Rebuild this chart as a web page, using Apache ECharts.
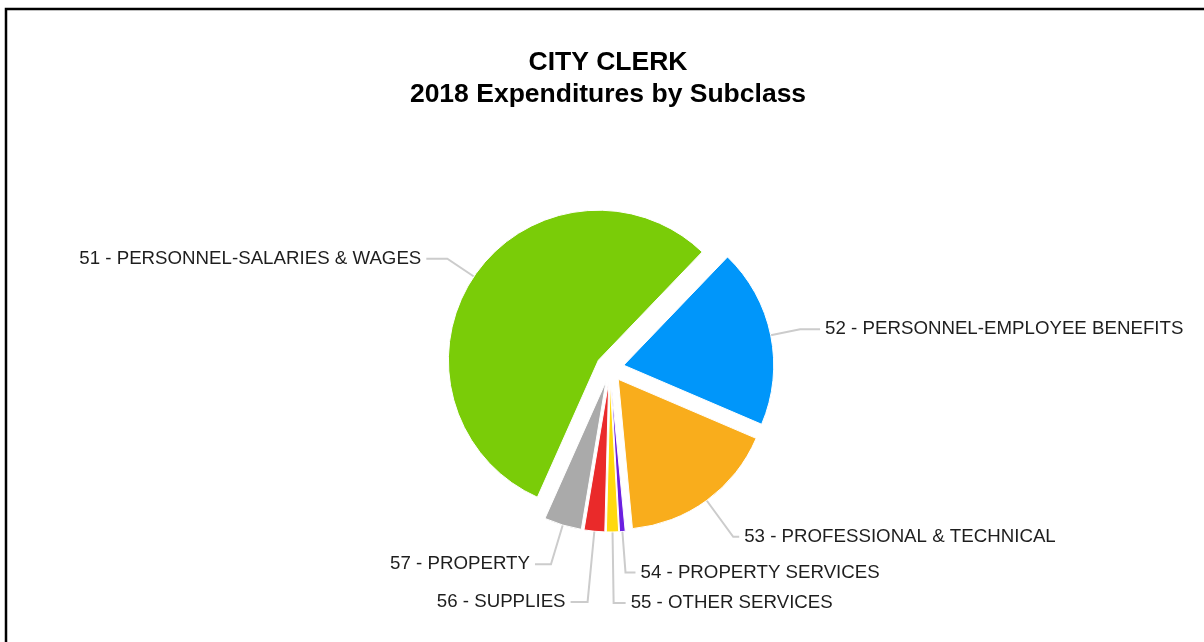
<!DOCTYPE html>
<html>
<head>
<meta charset="utf-8">
<style>
  html, body { margin: 0; padding: 0; background: #fff; }
  #chart { width: 1204px; height: 642px; }
</style>
<script src="https://cdn.jsdelivr.net/npm/echarts@6/dist/echarts.min.js"></script>
</head>
<body>
<div id="chart"></div>
<script>
// Expenditure subclasses, in drawing order (clockwise)
const categories = [
  '51 - PERSONNEL-SALARIES & WAGES',
  '52 - PERSONNEL-EMPLOYEE BENEFITS',
  '53 - PROFESSIONAL & TECHNICAL',
  '54 - PROPERTY SERVICES',
  '55 - OTHER SERVICES',
  '56 - SUPPLIES',
  '57 - PROPERTY'
];
// Share of 2018 expenditures (%)
const shares = [55.0, 19.1, 16.9, 0.6, 1.3, 2.2, 4.0];

const sliceColors = ['#7acc08', '#0096fa', '#f9ad1c', '#6b1fe0', '#ffd90f', '#ea2a2a', '#aaaaaa'];
// Leader line segment lengths [radial, horizontal] per slice
const leaderLengths = [[32, 21], [30, 20], [45, 6], [41, 10], [71, 12], [71, 17], [41, 16]];

const fontFamily = '"Liberation Sans", Arial, sans-serif';

const pieData = categories.map((name, i) => ({
  name: name,
  value: shares[i],
  selected: true,
  itemStyle: { color: sliceColors[i] },
  labelLine: { length: leaderLengths[i][0], length2: leaderLengths[i][1] }
}));

const chart = echarts.init(document.getElementById('chart'), null, { renderer: 'canvas' });

chart.setOption({
  backgroundColor: '#ffffff',
  animation: false,
  title: {
    text: 'CITY CLERK\n2018 Expenditures by Subclass',
    left: 603,
    top: 42,
    textAlign: 'center',
    textStyle: {
      fontFamily: fontFamily,
      fontSize: 26.5,
      fontWeight: 'bold',
      color: '#000',
      lineHeight: 32
    }
  },
  graphic: [{
    type: 'rect',
    silent: true,
    shape: { x: 6, y: 9, width: 1300, height: 700 },
    style: { fill: 'none', stroke: '#000', lineWidth: 2.5 }
  }],
  series: [{
    type: 'pie',
    center: [610, 368],
    radius: 150,
    startAngle: 246,
    clockwise: true,
    selectedMode: 'multiple',
    selectedOffset: 14,
    avoidLabelOverlap: false,
    labelLayout: { hideOverlap: false },
    label: {
      show: true,
      position: 'outside',
      formatter: '{b}',
      fontFamily: fontFamily,
      fontSize: 18.7,
      color: '#1e1e1e',
      distanceToLabelLine: 5
    },
    labelLine: {
      show: true,
      smooth: false,
      lineStyle: { color: '#cccccc', width: 2 }
    },
    itemStyle: { borderColor: '#ffffff', borderWidth: 1 },
    select: { itemStyle: { borderColor: '#ffffff', borderWidth: 1 } },
    emphasis: { disabled: true },
    data: pieData
  }]
});
</script>
</body>
</html>
